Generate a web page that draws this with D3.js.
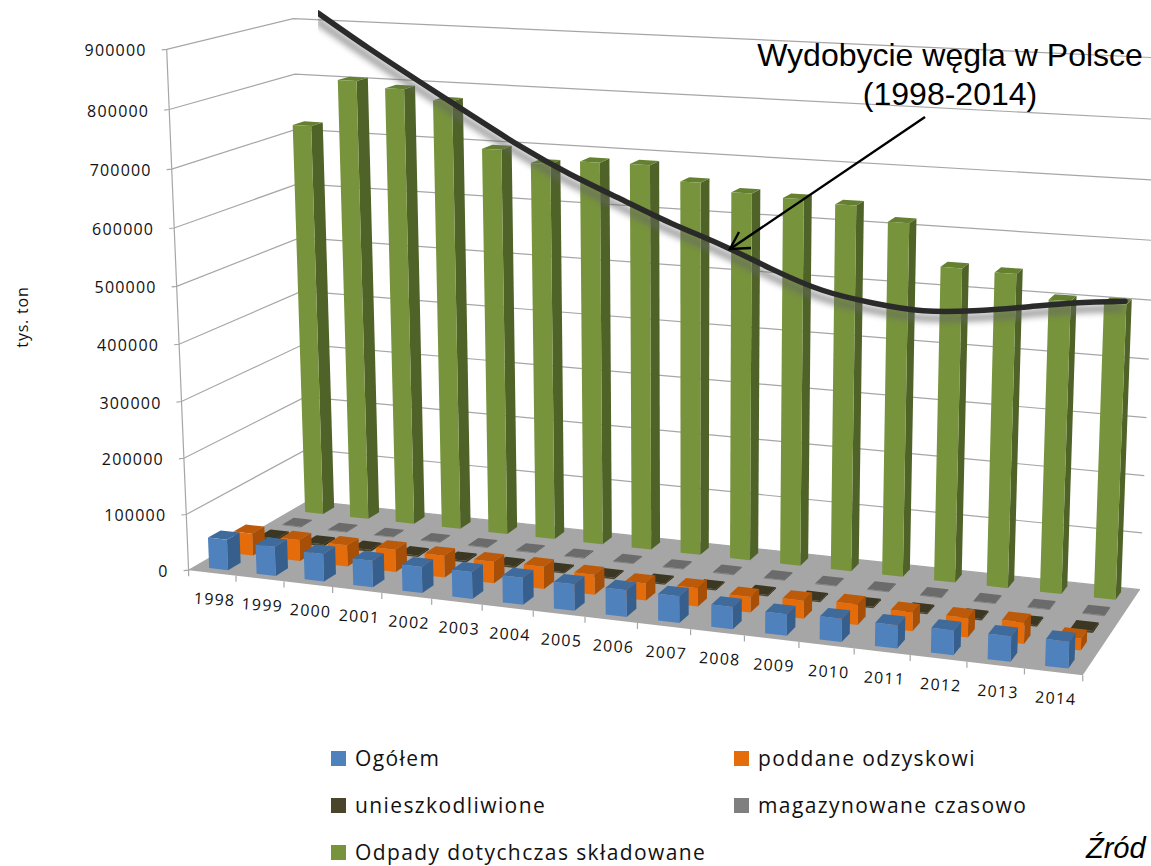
<!DOCTYPE html>
<html>
<head>
<meta charset="utf-8">
<script src="https://cdn.jsdelivr.net/npm/d3@7"></script>
<style>
  body { margin: 0; background: #fff; }
  svg { display: block; }
  text { font-family: "Open Sans", sans-serif; fill: #111; }
</style>
</head>
<body>
<div id="chart"></div>
<script>
const years = ['1998', '1999', '2000', '2001', '2002', '2003', '2004', '2005', '2006',
    '2007', '2008', '2009', '2010', '2011', '2012', '2013', '2014']
const seriesNames = ['Ogółem', 'poddane odzyskowi', 'unieszkodliwione', 'magazynowane czasowo', 'Odpady dotychczas składowane']

// tys. ton
const ogolem = [55000, 52000, 49000, 47000, 46000, 47000, 47000, 46000, 46000, 46000, 38000, 36000, 39000, 39000, 41000, 42000, 44000]
const odzysk = [40000, 38000, 38000, 40000, 39000, 38000, 39000, 35000, 30000, 32000, 27000, 31000, 35000, 32000, 33000, 36000, 20000]
const unieszk = [5000, 4000, 3500, 3000, 3000, 3000, 2500, 2500, 2500, 2500, 2500, 2500, 2500, 2500, 2500, 2500, 3500]
const magazyn = [1500, 1500, 1500, 1500, 1500, 1500, 1500, 1500, 1500, 1500, 1500, 1500, 1500, 1500, 1500, 1500, 1500]
const skladowane = [719000, 804000, 794000, 777000, 697000, 677000, 685000, 686000, 661000, 648000, 644000, 639000, 615000, 545000, 542000, 503000, 504000]
const seriesValues = [ogolem, odzysk, unieszk, magazyn, skladowane]

// the hand drawn coal curve laid over the chart, mln ton
const coalOutput = [119.5, 113.7, 108.2, 102.8, 97.5, 92.8, 88.7, 84.7, 81.1, 77.1, 73.6, 71.5, 70.2, 70.2, 70.8, 71.5, 71.8]

const frontColors = ['#4f81bd', '#e46c0a', '#4a452a', '#7f7f7f', '#77933c']
const sideColors = ['#375f8e', '#a84f07', '#343019', '#595959', '#4f6228']
const topColors = ['#3f6a9c', '#bd5a09', '#3b3722', '#6b6b6b', '#648030']

const width = 1151, height = 866

// camera: unit cube corners (u along years, v into the page, w up) to where they sit on screen
const cubeCorners = [
    [0, 0, 0, 190, 569], [1, 0, 0, 1083, 676], [0, 1, 0, 307, 502], [1, 1, 0, 1140, 589],
    [0, 0, 1, 165, 50], [0, 1, 1, 295, 18], [1, 1, 1, 1160, 58]
]

function solve(A, b) {
    const n = b.length
    const M = A.map((row, i) => row.concat(b[i]))
    for (let c = 0; c < n; c++) {
        let p = c
        for (let r = c + 1; r < n; r++) if (Math.abs(M[r][c]) > Math.abs(M[p][c])) p = r
        const tmp = M[c]; M[c] = M[p]; M[p] = tmp
        for (let r = 0; r < n; r++) {
            if (r === c) continue
            const f = M[r][c] / M[c][c]
            for (let k = c; k <= n; k++) M[r][k] -= f * M[c][k]
        }
    }
    return M.map((row, i) => row[n] / row[i])
}

function fitCamera(points) {
    const rows = [], rhs = []
    points.forEach(([u, v, w, x, y]) => {
        rows.push([u, v, w, 1, 0, 0, 0, 0, -u * x, -v * x, -w * x]); rhs.push(x)
        rows.push([0, 0, 0, 0, u, v, w, 1, -u * y, -v * y, -w * y]); rhs.push(y)
    })
    const ata = d3.range(11).map(i => d3.range(11).map(j => d3.sum(rows, r => r[i] * r[j])))
    const atb = d3.range(11).map(i => d3.sum(rows, (r, k) => r[i] * rhs[k]))
    return solve(ata, atb)
}

const cam = fitCamera(cubeCorners)
function project(u, v, w) {
    const d = cam[8] * u + cam[9] * v + cam[10] * w + 1
    return [
        (cam[0] * u + cam[1] * v + cam[2] * w + cam[3]) / d,
        (cam[4] * u + cam[5] * v + cam[6] * w + cam[7]) / d
    ]
}

const xS = d3.scaleBand().domain(years).range([0, 1]).paddingInner(0.6).paddingOuter(0.3)
const xTicks = d3.scaleBand().domain(years).range([0, 1])
const zS = d3.scaleBand().domain(seriesNames).range([0, 1]).paddingInner(0.5).paddingOuter(0.25)
const yS = d3.scaleLinear().domain([0, 900000]).range([0, 1])

const coalX = d3.scaleLinear().domain([0, years.length - 1]).range([318, 1125])
const coalY = d3.scaleLinear().domain([120, 70]).range([10, 312])

const svg = d3.select('#chart').append('svg')
    .attr('width', width)
    .attr('height', height)

const defs = svg.append('defs')
const shadow = defs.append('filter').attr('id', 'soft').attr('x', '-5%').attr('y', '-5%').attr('width', '110%').attr('height', '120%')
shadow.append('feGaussianBlur').attr('stdDeviation', 3)
defs.append('clipPath').attr('id', 'pic').append('rect')
    .attr('x', 318).attr('y', 0).attr('width', width - 318).attr('height', height)

const poly = pts => pts.map(p => p.join(',')).join(' ')

// walls
const ticks = yS.ticks(9)
const walls = svg.append('g').attr('fill', 'none').attr('stroke', '#a6a6a6').attr('stroke-width', 1.2)
ticks.forEach(t => {
    const w = yS(t)
    const a = project(0, 0, w), b = project(0, 1, w), c = project(1, 1, w)
    walls.append('polyline')
        .attr('points', poly([[a[0] - 5, a[1] + 0.5], a, b, c]))
})
walls.append('line')
    .attr('x1', project(0, 0, 0)[0]).attr('y1', project(0, 0, 0)[1])
    .attr('x2', project(0, 0, 1)[0]).attr('y2', project(0, 0, 1)[1])

// floor
svg.append('polygon')
    .attr('points', poly([project(0, 0, 0), project(1, 0, 0), project(1, 1, 0), project(0, 1, 0)]))
    .style('fill', '#a6a6a6')

// category ticks along the front edge
const catTicks = svg.append('g').attr('stroke', '#a6a6a6').attr('stroke-width', 1.2)
years.concat(['end']).forEach((yr, i) => {
    const p = project(i / years.length, 0, 0)
    catTicks.append('line').attr('x1', p[0]).attr('y1', p[1]).attr('x2', p[0]).attr('y2', p[1] + 6)
})

// value labels
svg.append('g').selectAll('text')
    .data(ticks)
    .enter()
    .append('text')
    .attr('x', d => project(0, 0, yS(d))[0] - 20)
    .attr('y', d => project(0, 0, yS(d))[1] + 7)
    .attr('text-anchor', 'end')
    .style('font-size', '16px')
    .style('letter-spacing', '1.2px')
    .text(d => d)

// year labels, tilted with the floor
svg.append('g').selectAll('text')
    .data(years)
    .enter()
    .append('text')
    .attr('transform', d => {
        const p = project(xTicks(d) + xTicks.bandwidth() / 2, 0, 0)
        return 'translate(' + (p[0] + 2) + ',' + (p[1] + 32) + ') rotate(3.5)'
    })
    .attr('text-anchor', 'middle')
    .style('font-size', '16px')
    .style('letter-spacing', '1.2px')
    .text(d => d)

svg.append('text')
    .attr('transform', 'translate(28,317) rotate(-90)')
    .attr('text-anchor', 'middle')
    .style('font-size', '16px')
    .style('letter-spacing', '0.8px')
    .text('tys. ton')

// bars, back row first
const bars = svg.append('g')
d3.range(seriesNames.length - 1, -1, -1).forEach(s => {
    const z0 = zS(seriesNames[s]), z1 = z0 + zS.bandwidth()
    const g = bars.append('g')
    years.forEach((yr, i) => {
        const x0 = xS(yr), x1 = x0 + xS.bandwidth()
        const w = yS(seriesValues[s][i])
        g.append('polygon').style('fill', sideColors[s])
            .attr('points', poly([project(x1, z0, 0), project(x1, z1, 0), project(x1, z1, w), project(x1, z0, w)]))
        g.append('polygon').style('fill', topColors[s])
            .attr('points', poly([project(x0, z0, w), project(x1, z0, w), project(x1, z1, w), project(x0, z1, w)]))
        g.append('polygon').style('fill', frontColors[s])
            .attr('points', poly([project(x0, z0, 0), project(x1, z0, 0), project(x1, z0, w), project(x0, z0, w)]))
    })
})

// coal curve with its soft shadow
const coalLine = d3.line()
    .x((d, i) => coalX(i))
    .y(d => coalY(d))
    .curve(d3.curveNatural)
const overlay = svg.append('g').attr('clip-path', 'url(#pic)')
overlay.append('path')
    .attr('d', coalLine(coalOutput))
    .attr('transform', 'translate(-2,7)')
    .attr('fill', 'none')
    .attr('stroke', '#666')
    .attr('stroke-width', 7)
    .attr('opacity', 0.65)
    .attr('filter', 'url(#soft)')
overlay.append('path')
    .attr('d', coalLine(coalOutput))
    .attr('fill', 'none')
    .attr('stroke', '#2a2a2a')
    .attr('stroke-width', 5.5)
    .attr('stroke-linecap', 'round')

// annotation
const note = svg.append('g').style('font-family', '"Liberation Sans", Arial, sans-serif')
note.append('text')
    .attr('x', 950).attr('y', 66)
    .attr('text-anchor', 'middle')
    .style('font-family', 'inherit')
    .style('font-size', '32px')
    .style('fill', '#000')
    .text('Wydobycie węgla w Polsce')
note.append('text')
    .attr('x', 950).attr('y', 105)
    .attr('text-anchor', 'middle')
    .style('font-family', 'inherit')
    .style('font-size', '32px')
    .style('fill', '#000')
    .text('(1998-2014)')
note.append('polyline')
    .attr('points', '925,117 730,249')
    .attr('fill', 'none').attr('stroke', '#000').attr('stroke-width', 2.4)
note.append('polyline')
    .attr('points', '739,232 730,249 751,248')
    .attr('fill', 'none').attr('stroke', '#000').attr('stroke-width', 2.4)
note.append('text')
    .attr('x', 1086).attr('y', 858)
    .style('font-family', 'inherit')
    .style('font-size', '29px')
    .style('font-style', 'italic')
    .style('fill', '#000')
    .text('Źród')

// legend
const legendCols = [331, 734], legendRows = [766, 813, 860]
const legend = svg.append('g').selectAll('g')
    .data(seriesNames)
    .enter()
    .append('g')
    .attr('transform', (d, i) => 'translate(' + legendCols[i % 2] + ',' + legendRows[Math.floor(i / 2)] + ')')
legend.append('rect')
    .attr('x', 0).attr('y', -15).attr('width', 15).attr('height', 15)
    .style('fill', (d, i) => frontColors[i])
legend.append('text')
    .attr('x', 24).attr('y', 0)
    .style('font-size', '21px')
    .style('letter-spacing', '1.4px')
    .text(d => d)
</script>
</body>
</html>
